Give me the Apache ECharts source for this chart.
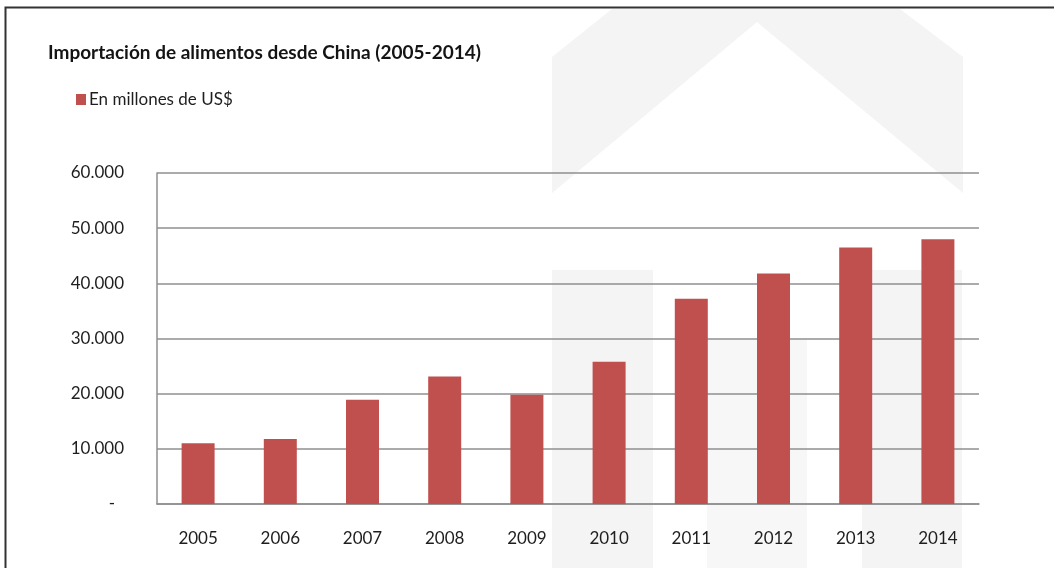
<!DOCTYPE html>
<html>
<head>
<meta charset="utf-8">
<script src="https://cdn.jsdelivr.net/npm/echarts@6/dist/echarts.min.js"></script>
<style>
  html, body { margin: 0; padding: 0; background: #fff; }
  #chart { width: 1054px; height: 568px; }
</style>
</head>
<body>
<div id="chart"></div>
<script>
const years = ['2005', '2006', '2007', '2008', '2009', '2010', '2011', '2012', '2013', '2014'];
const imports = [11000, 11800, 18900, 23100, 19800, 25800, 37200, 41800, 46500, 48000];
const seriesName = 'En millones de US$';
const titleText = 'Importación de alimentos desde China (2005-2014)';

const colors = {
  bar: '#c0504d',
  grid: '#8f8f8f',
  text: '#1e1e1e',
  mark: '#f4f4f4'
};
const font = "Lato, 'Open Sans', sans-serif";

// 60.000 style, dash for zero
function fmt(v) {
  if (v === 0) return '{z|-}';
  return String(v).replace(/\B(?=(\d{3})+(?!\d))/g, '.');
}

const chart = echarts.init(document.getElementById('chart'));

chart.setOption({
  backgroundColor: '#fff',
  animation: false,
  textStyle: { fontFamily: font },
  title: {
    text: titleText,
    left: 43,
    top: 38,
    textStyle: { fontFamily: font, fontSize: 19, fontWeight: 'bold', color: '#141414' }
  },
  legend: {
    left: 71,
    top: 86,
    icon: 'rect',
    itemWidth: 10,
    itemHeight: 11,
    itemGap: 10,
    textStyle: { fontFamily: font, fontSize: 17, color: colors.text, padding: [0, 0, 0, -2] },
    data: [seriesName]
  },
  graphic: [
    // faint watermark behind the plot
    {
      type: 'polygon', z: -10, silent: true,
      shape: { points: [[552, 193], [552, 57], [612, 9], [900, 9], [963, 57], [963, 193], [757, 22]] },
      style: { fill: colors.mark }
    },
    { type: 'rect', z: -10, silent: true, shape: { x: 552, y: 270, width: 101, height: 298 }, style: { fill: colors.mark } },
    { type: 'rect', z: -10, silent: true, shape: { x: 707, y: 340, width: 100, height: 228 }, style: { fill: '#f7f7f7' } },
    { type: 'rect', z: -10, silent: true, shape: { x: 862, y: 270, width: 100, height: 298 }, style: { fill: colors.mark } },
    // frame
    {
      type: 'polyline', z: 10, silent: true,
      shape: { points: [[5.5, 568], [5.5, 7.5], [1054, 7.5]] },
      style: { stroke: '#333', lineWidth: 2, fill: null }
    }
  ],
  grid: { left: 157, right: 75, top: 173, bottom: 64 },
  xAxis: {
    type: 'category',
    data: years,
    axisTick: { show: false },
    axisLine: { lineStyle: { color: colors.grid, width: 1.5 } },
    axisLabel: { color: colors.text, fontFamily: font, fontSize: 17, margin: 26 }
  },
  yAxis: {
    type: 'value',
    min: 0,
    max: 60000,
    interval: 10000,
    axisTick: { show: false },
    axisLine: { show: true, lineStyle: { color: colors.grid, width: 1.5 } },
    splitLine: { lineStyle: { color: colors.grid, width: 1.5 } },
    axisLabel: {
      color: colors.text, fontFamily: font, fontSize: 17, margin: 33,
      formatter: fmt,
      rich: { z: { color: colors.text, fontFamily: font, fontSize: 17, padding: [0, 9, 0, 0] } }
    }
  },
  series: [
    {
      name: seriesName,
      type: 'bar',
      data: imports,
      barWidth: 33,
      itemStyle: { color: colors.bar }
    }
  ]
});
</script>
</body>
</html>
